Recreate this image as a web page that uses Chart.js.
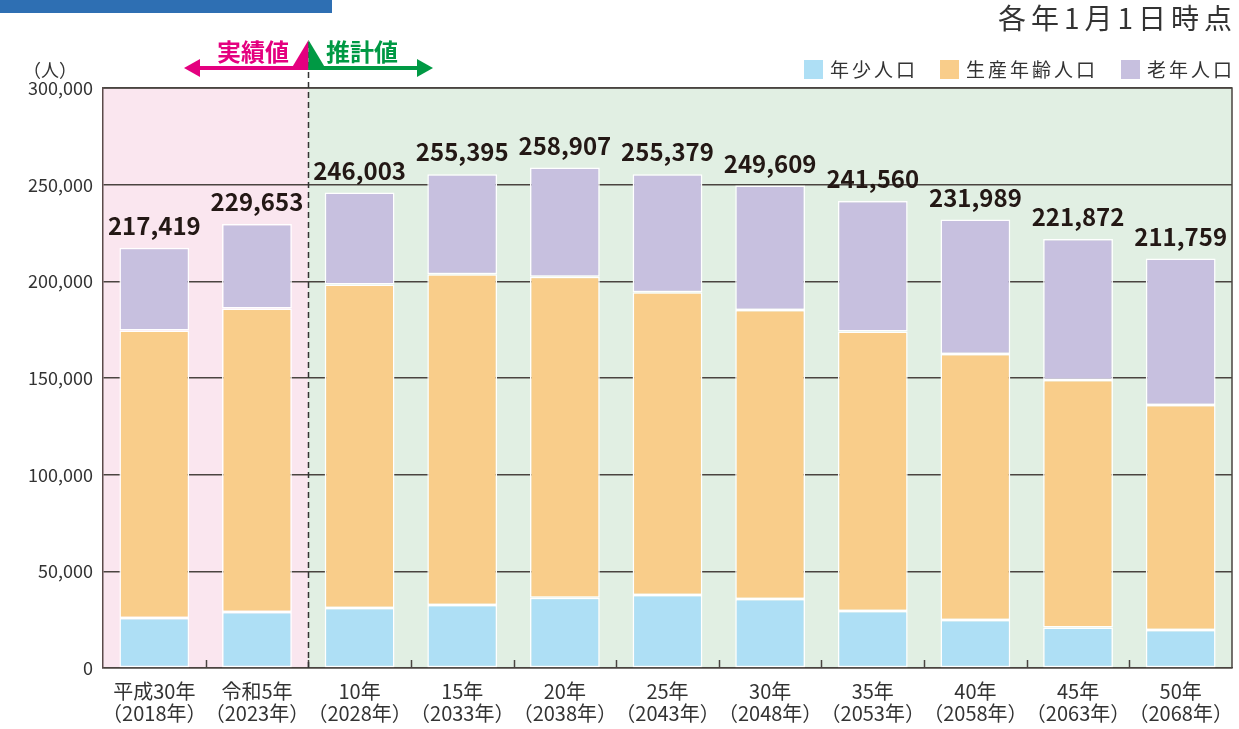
<!DOCTYPE html>
<html>
<head>
<meta charset="utf-8">
<script src="https://cdn.jsdelivr.net/npm/chart.js@4/dist/chart.umd.min.js"></script>
<style>
  html, body { margin: 0; padding: 0; background: #fff; }
  #wrap { width: 1239px; height: 729px; position: relative; }
</style>
</head>
<body>
<div id="wrap"><canvas id="graphe"></canvas></div>
<script>
// données (personnes)
const annees = [
    ['平成30年', '（2018年）'], ['令和5年', '（2023年）'], ['10年', '（2028年）'],
    ['15年', '（2033年）'], ['20年', '（2038年）'], ['25年', '（2043年）'],
    ['30年', '（2048年）'], ['35年', '（2053年）'], ['40年', '（2058年）'],
    ['45年', '（2063年）'], ['50年', '（2068年）']
];
const jeunes = [25900, 29000, 31000, 32600, 36400, 37800, 35700, 29500, 24800, 20900, 19700];
const actifs = [148700, 157000, 167400, 171000, 166000, 156500, 149500, 144500, 137600, 128100, 116300];
const ages = [42819, 43653, 47603, 51795, 56507, 61079, 64409, 67560, 69589, 72872, 75759];
const totaux = [217419, 229653, 246003, 255395, 258907, 255379, 249609, 241560, 231989, 221872, 211759];
const series = ['年少人口', '生産年齢人口', '老年人口'];
const couleurs = ['#aedff5', '#f9cd8a', '#c7c0df'];
const nbReels = 2; // les deux premières années sont des valeurs réelles

const police = '"Noto Sans CJK JP", "Noto Sans", sans-serif';

const decor = {
    id: 'decor',
    beforeDraw(chart) {
        const ctx = chart.ctx;
        const a = chart.chartArea;
        const x = chart.scales.x;
        const sep = (x.getPixelForValue(nbReels - 1) + x.getPixelForValue(nbReels)) / 2;
        ctx.save();
        ctx.fillStyle = '#fae6ef';
        ctx.fillRect(a.left, a.top, sep - a.left, a.bottom - a.top);
        ctx.fillStyle = '#e1efe3';
        ctx.fillRect(sep, a.top, a.right - sep, a.bottom - a.top);
        ctx.restore();
    },
    afterDatasetsDraw(chart) {
        const ctx = chart.ctx;
        const a = chart.chartArea;
        const x = chart.scales.x;
        const y = chart.scales.y;
        ctx.save();

        // bordure haut et droite
        ctx.strokeStyle = '#4a4440';
        ctx.lineWidth = 1.5;
        ctx.beginPath();
        ctx.moveTo(a.left, a.top);
        ctx.lineTo(a.right, a.top);
        ctx.lineTo(a.right, a.bottom);
        ctx.stroke();

        // petites graduations entre les catégories
        for (let i = 0; i < annees.length - 1; i++) {
            const px = Math.round((x.getPixelForValue(i) + x.getPixelForValue(i + 1)) / 2) + 0.5;
            ctx.beginPath();
            ctx.moveTo(px, a.bottom);
            ctx.lineTo(px, a.bottom - 8);
            ctx.stroke();
        }

        // ligne pointillée
        const sep = Math.round((x.getPixelForValue(nbReels - 1) + x.getPixelForValue(nbReels)) / 2) + 0.5;
        ctx.setLineDash([6, 4]);
        ctx.strokeStyle = '#333';
        ctx.beginPath();
        ctx.moveTo(sep, 42);
        ctx.lineTo(sep, a.bottom);
        ctx.stroke();
        ctx.setLineDash([]);

        // totaux au dessus des barres
        ctx.fillStyle = '#231815';
        ctx.font = 'bold 24px ' + police;
        ctx.textAlign = 'center';
        ctx.textBaseline = 'middle';
        totaux.forEach((t, i) => {
            ctx.fillText(t.toLocaleString('en-US'), x.getPixelForValue(i), y.getPixelForValue(t) - 22);
        });

        // flèches 実績値 / 推計値
        const ya = 68;
        ctx.fillStyle = '#e4007f';
        ctx.fillRect(196, ya - 2, sep - 196, 4);
        ctx.beginPath();
        ctx.moveTo(184, ya);
        ctx.lineTo(200, ya - 9);
        ctx.lineTo(200, ya + 9);
        ctx.closePath();
        ctx.fill();
        ctx.beginPath();
        ctx.moveTo(sep, 40);
        ctx.lineTo(sep, ya + 2);
        ctx.lineTo(sep - 18, ya + 2);
        ctx.closePath();
        ctx.fill();

        ctx.fillStyle = '#009944';
        ctx.fillRect(sep, ya - 2, 418 - sep, 4);
        ctx.beginPath();
        ctx.moveTo(433, ya);
        ctx.lineTo(417, ya - 9);
        ctx.lineTo(417, ya + 9);
        ctx.closePath();
        ctx.fill();
        ctx.beginPath();
        ctx.moveTo(sep, 40);
        ctx.lineTo(sep, ya + 2);
        ctx.lineTo(sep + 18, ya + 2);
        ctx.closePath();
        ctx.fill();

        ctx.font = 'bold 24px ' + police;
        ctx.lineWidth = 4;
        ctx.strokeStyle = '#fff';
        ctx.lineJoin = 'round';
        ctx.textAlign = 'center';
        ctx.strokeText('実績値', 253, 52);
        ctx.fillStyle = '#e4007f';
        ctx.fillText('実績値', 253, 52);
        ctx.strokeText('推計値', 362, 52);
        ctx.fillStyle = '#009944';
        ctx.fillText('推計値', 362, 52);

        // unité
        ctx.fillStyle = '#333';
        ctx.font = '18px ' + police;
        ctx.fillText('（人）', 50, 70);

        // titre date
        ctx.textAlign = 'right';
        ctx.font = '28px ' + police;
        ctx.letterSpacing = '5px';
        ctx.fillText('各年1月1日時点', 1237, 18);

        // légende
        ctx.font = '19px ' + police;
        ctx.letterSpacing = '3px';
        ctx.textAlign = 'left';
        const posLeg = [804, 940, 1121];
        chart.data.datasets.forEach((d, i) => {
            ctx.fillStyle = d.backgroundColor;
            ctx.fillRect(posLeg[i], 60, 19, 19);
            ctx.fillStyle = '#333';
            ctx.fillText(d.label, posLeg[i] + 26, 70);
        });
        ctx.letterSpacing = '0px';

        // bandeau bleu
        ctx.fillStyle = '#2e6fb3';
        ctx.fillRect(0, 0, 332, 13);
        ctx.restore();
    }
};

const jeuxDonnees = [jeunes, actifs, ages].map((v, i) => ({
    label: series[i],
    data: v,
    backgroundColor: couleurs[i],
    borderColor: '#ffffff',
    borderWidth: 1.5,
    borderSkipped: false,
    categoryPercentage: 1,
    barPercentage: 0.68
}));

new Chart(document.getElementById('graphe'), {
    type: 'bar',
    data: { labels: annees, datasets: jeuxDonnees },
    options: {
        responsive: true,
        maintainAspectRatio: false,
        animation: false,
        layout: { padding: { top: 88, right: 7, left: 0, bottom: 0 } },
        plugins: { legend: { display: false }, tooltip: { enabled: false } },
        scales: {
            x: {
                stacked: true,
                grid: { display: false },
                border: { display: true, color: '#4a4440', width: 1.5 },
                ticks: {
                    color: '#333',
                    font: { family: police, size: 20, lineHeight: 1.1 },
                    padding: 4,
                    maxRotation: 0,
                    autoSkip: false
                },
                afterFit(s) { s.height = 61; }
            },
            y: {
                stacked: true,
                min: 0,
                max: 300000,
                ticks: {
                    stepSize: 50000,
                    color: '#333',
                    font: { family: police, size: 18 },
                    padding: 10,
                    callback: v => v.toLocaleString('en-US')
                },
                grid: { color: '#4a4440', lineWidth: 1.5, drawTicks: false },
                border: { display: true, color: '#5a4a4a', width: 1.5 },
                afterFit(s) { s.width = 103; }
            }
        }
    },
    plugins: [decor]
});
</script>
</body>
</html>
